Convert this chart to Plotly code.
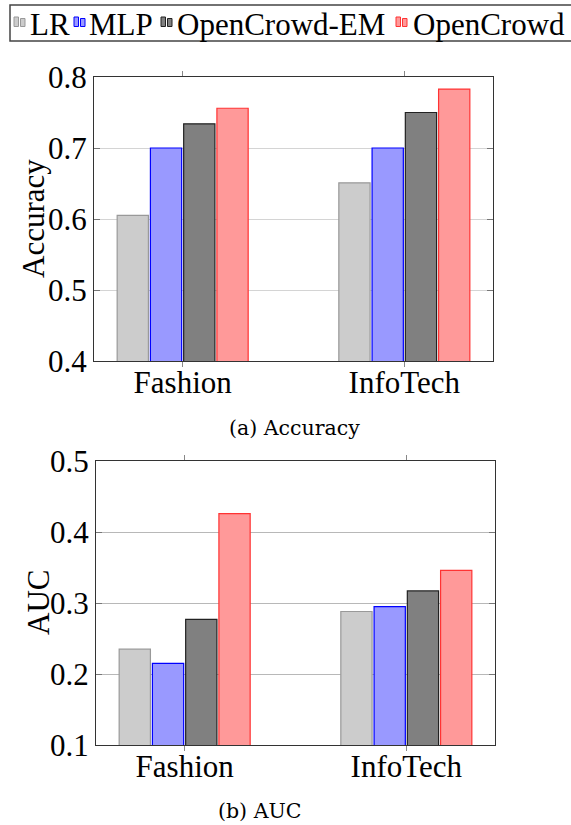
import plotly.graph_objects as go

# Data
datasets = ["Fashion", "InfoTech"]
methods = ["LR", "MLP", "OpenCrowd-EM", "OpenCrowd"]
accuracy = {
    "LR": [0.605, 0.651],
    "MLP": [0.700, 0.700],
    "OpenCrowd-EM": [0.734, 0.750],
    "OpenCrowd": [0.756, 0.783],
}
auc = {
    "LR": [0.235, 0.288],
    "MLP": [0.215, 0.295],
    "OpenCrowd-EM": [0.277, 0.317],
    "OpenCrowd": [0.426, 0.346],
}
acc_ticks = [0.4, 0.5, 0.6, 0.7, 0.8]
auc_ticks = [0.1, 0.2, 0.3, 0.4, 0.5]

fills = {"LR": "#cccccc", "MLP": "#9999ff", "OpenCrowd-EM": "#808080", "OpenCrowd": "#ff9999"}
strokes = {"LR": "#999999", "MLP": "#0000ff", "OpenCrowd-EM": "#222222", "OpenCrowd": "#ff3333"}

W, H = 571, 825
SERIF = "Liberation Serif"


def px(x):
    return x / W


def py(y):
    return 1 - y / H


fig = go.Figure()
for m in methods:
    fig.add_trace(go.Bar(x=datasets, y=accuracy[m], name=m, xaxis="x", yaxis="y",
                         marker=dict(color=fills[m], line=dict(color=strokes[m], width=1.2)),
                         showlegend=False))
    fig.add_trace(go.Bar(x=datasets, y=auc[m], name=m, xaxis="x2", yaxis="y2",
                         marker=dict(color=fills[m], line=dict(color=strokes[m], width=1.2)),
                         showlegend=False))

tick_font = dict(family=SERIF, size=31, color="black")


def xaxis(domain, anchor):
    return dict(domain=domain, anchor=anchor, type="category", range=[-0.4, 1.4],
                showline=True, linecolor="#333333", linewidth=1.2, mirror="ticks",
                ticks="outside", ticklen=5, tickcolor="#888888", tickwidth=1,
                tickfont=tick_font, ticklabelstandoff=-11,
                showgrid=False, fixedrange=True, automargin=False)


def yaxis(domain, anchor, rng, ticks, gridcolor):
    return dict(domain=domain, anchor=anchor, range=rng, tickvals=ticks,
                ticktext=[f"{t:.1f}" for t in ticks],
                showline=True, linecolor="#333333", linewidth=1.2, mirror="ticks",
                ticks="inside", ticklen=6, tickcolor="#777777", tickwidth=1,
                tickfont=tick_font, showgrid=True, gridcolor=gridcolor, gridwidth=1,
                zeroline=False, fixedrange=True, automargin=False)


caption_font = dict(family="DejaVu Serif", size=20.5, color="black")
annotations = [
    dict(text="Accuracy", x=px(34), y=py(219), xref="paper", yref="paper", textangle=-90,
         showarrow=False, font=tick_font, xanchor="center", yanchor="middle"),
    dict(text="AUC", x=px(38), y=py(603), xref="paper", yref="paper", textangle=-90,
         showarrow=False, font=tick_font, xanchor="center", yanchor="middle"),
    dict(text="(a) Accuracy", x=px(294), y=py(428), xref="paper", yref="paper",
         showarrow=False, font=caption_font, xanchor="center", yanchor="middle"),
    dict(text="(b) AUC", x=px(259), y=py(825), xref="paper", yref="paper",
         showarrow=False, font=caption_font, xanchor="center", yanchor="bottom"),
]

# Legend: framed row of two-bar icons followed by labels
shapes = [dict(type="rect", xref="paper", yref="paper", x0=px(10), x1=px(573), y0=py(41), y1=py(5),
               line=dict(color="#444444", width=1.5), fillcolor="white", layer="below")]
legend_icon_x = {"LR": 14, "MLP": 74, "OpenCrowd-EM": 161, "OpenCrowd": 396}
legend_text_x = {"LR": 30, "MLP": 89, "OpenCrowd-EM": 177, "OpenCrowd": 413}
for m in methods:
    x0 = legend_icon_x[m]
    for dx, top in ((0, 17), (6.5, 18.5)):
        shapes.append(dict(type="rect", xref="paper", yref="paper",
                           x0=px(x0 + dx), x1=px(x0 + dx + 4.5), y0=py(26.5), y1=py(top),
                           fillcolor=fills[m], line=dict(color=strokes[m], width=1)))
    annotations.append(dict(text=m, x=px(legend_text_x[m]), y=py(25), xref="paper", yref="paper",
                            showarrow=False, font=dict(family=SERIF, size=31, color="black"),
                            xanchor="left", yanchor="middle", xshift=-2))

fig.update_layout(
    width=W, height=H, margin=dict(l=0, r=0, t=0, b=0, pad=0, autoexpand=False),
    paper_bgcolor="white", plot_bgcolor="white",
    barmode="group", bargap=0.4, bargroupgap=0.06,
    xaxis=xaxis([px(94), px(493)], "y"),
    yaxis=yaxis([py(361), py(77)], "x", [0.4, 0.8], acc_ticks, "#d4d4d4"),
    xaxis2=xaxis([px(96), px(495)], "y2"),
    yaxis2=yaxis([py(745), py(461)], "x2", [0.1, 0.5], auc_ticks, "#b8b8b8"),
    annotations=annotations, shapes=shapes,
)

fig.write_html("out.html")
